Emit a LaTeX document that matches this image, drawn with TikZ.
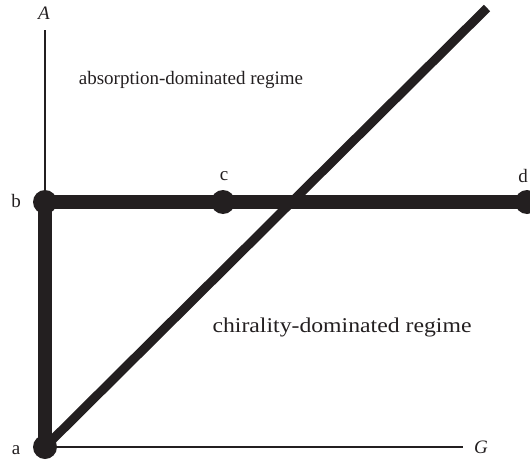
\documentclass[tikz,border=0pt]{standalone}
\usepackage{fontspec}
\setmainfont{Liberation Serif}
\definecolor{ink}{HTML}{231F20}
\begin{document}
\begin{tikzpicture}[x=1pt,y=-1pt,
  dot/.style={circle,fill=ink,inner sep=0pt,minimum size=24pt},
  thinax/.style={draw=ink,line width=1.8pt},
  thickln/.style={draw=ink,line width=14pt},
  diag/.style={draw=ink,line width=9pt},
  lbl/.style={text=ink,font=\fontsize{19}{22}\selectfont,inner sep=0pt}]
\useasboundingbox (0,0) rectangle (530,460);
\clip (0,0) rectangle (530,460);
% coordinates
\coordinate (atop) at (45,30);
\coordinate (gend) at (463,447);
\coordinate (dend) at (487,8);
% dots
\node[dot] (a) at (45,447) {};
\node[dot] (b) at (45,202) {};
\node[dot] (c) at (223,202) {};
\node[dot] (d) at (527,202) {};
% axes
\draw[thinax] (a.center) -- (atop);
\draw[thinax] (a.center) -- (gend);
% thick lines
\draw[thickln] (a.center) -- (b.center);
\draw[thickln] (b.center) -- (d.center);
\draw[diag] (a.center) -- (dend);
% labels
\node[lbl] (lA) at (44,13) {\itshape A};
\node[lbl] (lG) at (481,447) {\itshape G};
\node[lbl] (lb) at (16,201) {b};
\node[lbl] (lc) at (224,176) {c};
\node[lbl] (ld) at (523,176) {d};
\node[lbl] (la) at (16,450) {a};
\node[lbl] (r1) at (191,80) {absorption-dominated regime};
\node[lbl,font=\fontsize{21}{24}\selectfont,xscale=1.13] (r2) at (342,327) {chirality-dominated regime};
\end{tikzpicture}
\end{document}
